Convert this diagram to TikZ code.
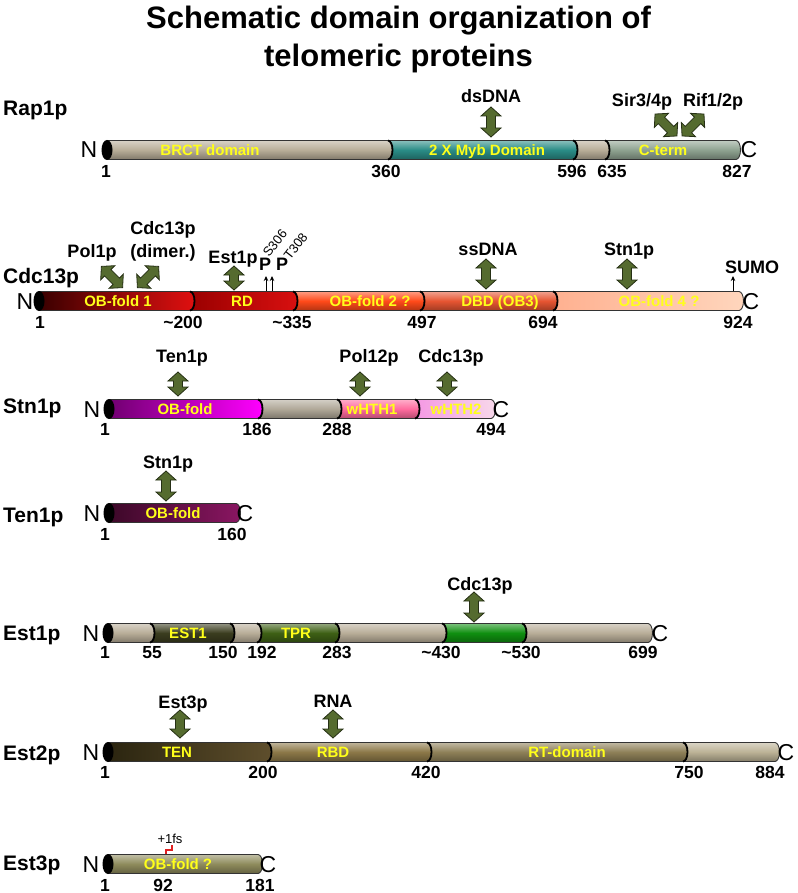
\documentclass[tikz,border=0pt]{standalone}
\usepackage{fontspec}
\setmainfont{Liberation Sans}
\usetikzlibrary{arrows.meta}
\definecolor{tanc}{HTML}{B8AD98}
\definecolor{mybc}{HTML}{2A8C86}
\definecolor{ctermc}{HTML}{8EA290}
\definecolor{arrowg}{HTML}{556B2F}
\definecolor{arrowd}{HTML}{263015}
\definecolor{labyel}{HTML}{FFFF1A}
\definecolor{obia}{HTML}{3A0000}
\definecolor{obib}{HTML}{E01010}
\definecolor{rda}{HTML}{9A0000}
\definecolor{rdb}{HTML}{D81010}
\definecolor{obii}{HTML}{FF4A1A}
\definecolor{dbdc}{HTML}{E65532}
\definecolor{obiv}{HTML}{FFC4A0}
\definecolor{stna}{HTML}{700070}
\definecolor{stnb}{HTML}{FF00FF}
\definecolor{stnmid}{HTML}{B0A898}
\definecolor{whi}{HTML}{FF6B9E}
\definecolor{whii}{HTML}{F2BEDC}
\definecolor{tena}{HTML}{3C0828}
\definecolor{tenb}{HTML}{8A1662}
\definecolor{estic}{HTML}{3B3D1F}
\definecolor{tprc}{HTML}{3E6015}
\definecolor{grnc}{HTML}{0F8F10}
\definecolor{tta}{HTML}{2B2510}
\definecolor{ttb}{HTML}{5E4E2C}
\definecolor{rbdc}{HTML}{8C7848}
\definecolor{rtc}{HTML}{8E8058}
\definecolor{tlc}{HTML}{BCB296}
\definecolor{estiiic}{HTML}{8E8B5C}
\definecolor{fsred}{HTML}{E02020}
\newcommand{\dseg}[4]{\path[#4] (#1,#3-9.5) -- (#2,#3-9.5) arc[start angle=90,end angle=-90,x radius=4.5pt,y radius=9.5pt] -- (#1,#3+9.5) -- cycle;}
\newcommand{\dsep}[2]{\draw[line width=1.8pt] (#1,#2-9.5) arc[start angle=90,end angle=-90,x radius=4.5pt,y radius=9.5pt];}
\newcommand{\dcap}[2]{\fill (#1,#2) ellipse[x radius=5.5pt,y radius=10pt];}
\tikzset{
  cyl/.style={top color=#1!55!white, bottom color=#1!70!black, middle color=#1, draw=black!80, line width=0.9pt},
  hz/.style 2 args={left color=#1, right color=#2, draw=black!80, line width=0.9pt},
  arrowfill/.style={fill=arrowg, draw=arrowd, line width=0.8pt, line join=miter},
  pics/dbl/.style={code={\path[arrowfill] (-#1/2,0) -- (-#1/2+9,-10) -- (-#1/2+9,-4.5) -- (#1/2-9,-4.5) -- (#1/2-9,-10) -- (#1/2,0) -- (#1/2-9,10) -- (#1/2-9,4.5) -- (-#1/2+9,4.5) -- (-#1/2+9,10) -- cycle;}},
  pname/.style={anchor=base west, inner sep=0pt, font=\fontsize{21}{21}\selectfont\bfseries},
  ilab/.style={anchor=base, inner sep=0pt, font=\fontsize{18}{18}\selectfont\bfseries},
  num/.style={anchor=base, inner sep=0pt, font=\fontsize{17.5}{17.5}\selectfont\bfseries},
  dlab/.style={anchor=base, inner sep=0pt, text=labyel, font=\fontsize{15}{15}\selectfont\bfseries},
  term/.style={anchor=base, inner sep=0pt, font=\fontsize{23}{23}\selectfont},
  ttl/.style={anchor=base, inner sep=0pt, font=\fontsize{31}{31}\selectfont\bfseries},
  small/.style={inner sep=0pt, font=\fontsize{13}{13}\selectfont},
  tip/.style={-{Stealth[length=5pt,width=4.5pt]}, line width=1pt}
}
\begin{document}
\begin{tikzpicture}[x=1pt,y=-1pt]
\useasboundingbox (0,0) rectangle (797,893);
\node[ttl] (t1) at (398.5,29) {Schematic domain organization of};
\node[ttl] (t2) at (398.5,67) {telomeric proteins};

% ---------------- Rap1p
\node[pname] (rap) at (3,116) {Rap1p};
\dseg{605}{736}{150}{cyl=ctermc}
\dseg{573}{605}{150}{cyl=tanc}
\dseg{388}{573}{150}{cyl=mybc}
\dseg{107}{388}{150}{cyl=tanc}
\dsep{388}{150}\dsep{573}{150}\dsep{605}{150}
\dcap{107}{150}
\node[term] (rapN) at (89,158) {N};
\node[term] (rapC) at (749,158) {C};
\node[dlab] (rapd1) at (210,155.5) {BRCT domain};
\node[dlab] (rapd2) at (487,155.5) {2 X Myb Domain};
\node[dlab] (rapd3) at (663,155.5) {C-term};
\node[num] (rapn1) at (106,178) {1};
\node[num] (rapn2) at (386,178) {360};
\node[num] (rapn3) at (572,178) {596};
\node[num] (rapn4) at (612,178) {635};
\node[num] (rapn5) at (737,178) {827};
\node[ilab] (rapi1) at (491,103) {dsDNA};
\pic[rotate=90] at (491,122) {dbl=30};
\node[ilab] (rapi2) at (642,107) {Sir3/4p};
\pic[rotate=-45] at (666,125) {dbl=31};
\node[ilab] (rapi3) at (713,107) {Rif1/2p};
\pic[rotate=45] at (693,125) {dbl=31};

% ---------------- Cdc13p
\node[pname] (cdc) at (3,283) {Cdc13p};
\dseg{553}{739}{301}{hz={obiv!90!red}{obiv!70!white}}
\dseg{420}{553}{301}{cyl=dbdc}
\dseg{293}{420}{301}{cyl=obii}
\dseg{190}{293}{301}{hz={rda}{rdb}}
\dseg{39}{190}{301}{hz={obia}{obib}}
\dsep{190}{301}\dsep{293}{301}\dsep{420}{301}\dsep{553}{301}
\dcap{39}{301}
\node[term] (cdcN) at (25,309) {N};
\node[term] (cdcC) at (751,309) {C};
\node[dlab] (cdcd1) at (118,306.5) {OB-fold 1};
\node[dlab] (cdcd2) at (242,306.5) {RD};
\node[dlab] (cdcd3) at (370,306.5) {OB-fold 2 ?};
\node[dlab] (cdcd4) at (500,306.5) {DBD (OB3)};
\node[dlab] (cdcd5) at (659,306.5) {OB-fold 4 ?};
\node[num] (cdcn1) at (40,328) {1};
\node[num] (cdcn2) at (183,328) {\char`\~200};
\node[num] (cdcn3) at (292,328) {\char`\~335};
\node[num] (cdcn4) at (422,328) {497};
\node[num] (cdcn5) at (543,328) {694};
\node[num] (cdcn6) at (738,328) {924};
\node[ilab] (cdci1) at (92,258) {Pol1p};
\pic[rotate=-45] at (112,277) {dbl=30};
\node[ilab] (cdci2a) at (163,235) {Cdc13p};
\node[ilab] (cdci2b) at (163,258) {(dimer.)};
\pic[rotate=45] at (148,277) {dbl=30};
\node[ilab] (cdci3) at (233,263) {Est1p};
\pic[rotate=90] at (234,278) {dbl=24};
\node[ilab] (cdcp1) at (265,270) {P};
\node[ilab] (cdcp2) at (282,270) {P};
\node[small, rotate=52, anchor=base west] (cdcs1) at (269,258) {S306};
\node[small, rotate=52, anchor=base west] (cdcs2) at (290,261) {T308};
\coordinate (pa1) at (266,291);
\coordinate (pb1) at (266,276);
\coordinate (pa2) at (272,291);
\coordinate (pb2) at (272,276);
\draw[tip] (pa1) -- (pb1);
\draw[tip] (pa2) -- (pb2);
\node[ilab] (cdci4) at (488,255) {ssDNA};
\pic[rotate=90] at (486,274) {dbl=30};
\node[ilab] (cdci5) at (629,255) {Stn1p};
\pic[rotate=90] at (627,274) {dbl=30};
\node[ilab] (cdci6) at (752,273) {SUMO};
\coordinate (su1) at (733,291);
\coordinate (su2) at (733,276);
\draw[tip] (su1) -- (su2);

% ---------------- Stn1p
\node[pname] (stn) at (3,413) {Stn1p};
\dseg{415}{491}{409}{hz={whii!80!magenta}{whii!60!white}}
\dseg{337}{415}{409}{cyl=whi}
\dseg{258}{337}{409}{cyl=stnmid}
\dseg{109}{258}{409}{hz={stna}{stnb}}
\dsep{258}{409}\dsep{337}{409}\dsep{415}{409}
\dcap{109}{409}
\node[term] (stnN) at (92,417) {N};
\node[term] (stnC) at (501,417) {C};
\node[dlab] (stnd1) at (185,414.5) {OB-fold};
\node[dlab] (stnd2) at (372,414.5) {wHTH1};
\node[dlab] (stnd3) at (456,414.5) {wHTH2};
\node[num] (stnn1) at (105,435) {1};
\node[num] (stnn2) at (257,435) {186};
\node[num] (stnn3) at (337,435) {288};
\node[num] (stnn4) at (491,435) {494};
\node[ilab] (stni1) at (182,362) {Ten1p};
\pic[rotate=90] at (178,384) {dbl=24};
\node[ilab] (stni2) at (369,362) {Pol12p};
\pic[rotate=90] at (360,384) {dbl=24};
\node[ilab] (stni3) at (451,362) {Cdc13p};
\pic[rotate=90] at (447,384) {dbl=24};

% ---------------- Ten1p
\node[pname] (ten) at (3,522) {Ten1p};
\dseg{109}{236}{513}{hz={tena}{tenb}}
\dcap{109}{513}
\node[term] (tenN) at (92,521) {N};
\node[term] (tenC) at (245,521) {C};
\node[dlab] (tend1) at (173,518.5) {OB-fold};
\node[num] (tenn1) at (105,540) {1};
\node[num] (tenn2) at (232,540) {160};
\node[ilab] (teni1) at (168,468) {Stn1p};
\pic[rotate=90] at (166,486) {dbl=30};

% ---------------- Est1p
\node[pname] (esti) at (3,640) {Est1p};
\dseg{522}{648}{633}{cyl=tanc}
\dseg{442}{522}{633}{cyl=grnc}
\dseg{335}{442}{633}{cyl=tanc}
\dseg{257}{335}{633}{cyl=tprc}
\dseg{230}{257}{633}{cyl=tanc}
\dseg{150}{230}{633}{cyl=estic}
\dseg{108}{150}{633}{cyl=tanc}
\dsep{150}{633}\dsep{230}{633}\dsep{257}{633}\dsep{335}{633}\dsep{442}{633}\dsep{522}{633}
\dcap{108}{633}
\node[term] (estiN) at (91,641) {N};
\node[term] (estiC) at (660,641) {C};
\node[dlab] (estid1) at (188,638.5) {EST1};
\node[dlab] (estid2) at (296,638.5) {TPR};
\node[num] (estin1) at (105,658) {1};
\node[num] (estin2) at (152,658) {55};
\node[num] (estin3) at (223,658) {150};
\node[num] (estin4) at (262,658) {192};
\node[num] (estin5) at (337,658) {283};
\node[num] (estin6) at (441,658) {\char`\~430};
\node[num] (estin7) at (521,658) {\char`\~530};
\node[num] (estin8) at (643,658) {699};
\node[ilab] (estii1) at (480,590) {Cdc13p};
\pic[rotate=90] at (474,607) {dbl=30};

% ---------------- Est2p
\node[pname] (estii) at (3,760) {Est2p};
\dseg{683}{775}{752}{cyl=tlc}
\dseg{427}{683}{752}{cyl=rtc}
\dseg{267}{427}{752}{cyl=rbdc}
\dseg{108}{267}{752}{hz={tta}{ttb}}
\dsep{267}{752}\dsep{427}{752}\dsep{683}{752}
\dcap{108}{752}
\node[term] (estiiN) at (91,760) {N};
\node[term] (estiiC) at (786,760) {C};
\node[dlab] (estiid1) at (177,757.5) {TEN};
\node[dlab] (estiid2) at (333,757.5) {RBD};
\node[dlab] (estiid3) at (567,757.5) {RT-domain};
\node[num] (estiin1) at (105,778) {1};
\node[num] (estiin2) at (263,778) {200};
\node[num] (estiin3) at (426,778) {420};
\node[num] (estiin4) at (689,778) {750};
\node[num] (estiin5) at (770,778) {884};
\node[ilab] (estiii1) at (183,708) {Est3p};
\pic[rotate=90] at (180,724) {dbl=28};
\node[ilab] (estiii2) at (333,707) {RNA};
\pic[rotate=90] at (333,724) {dbl=28};

% ---------------- Est3p
\node[pname] (estiii) at (3,870) {Est3p};
\dseg{108}{258}{864}{cyl=estiiic}
\dcap{108}{864}
\node[term] (estiiiN) at (91,872) {N};
\node[term] (estiiiC) at (268,872) {C};
\node[dlab] (estiiid1) at (178,869.5) {OB-fold ?};
\node[num] (estiiin1) at (105,891) {1};
\node[num] (estiiin2) at (163,891) {92};
\node[num] (estiiin3) at (260,891) {181};
\node[small] (fs) at (170,839) {+1fs};
\coordinate (fsa) at (166,854);
\coordinate (fsb) at (166,850);
\coordinate (fsc) at (172,850);
\coordinate (fsd) at (172,845);
\draw[fsred, line width=1.8pt] (fsa) -- (fsb) -- (fsc) -- (fsd);
\end{tikzpicture}
\end{document}
